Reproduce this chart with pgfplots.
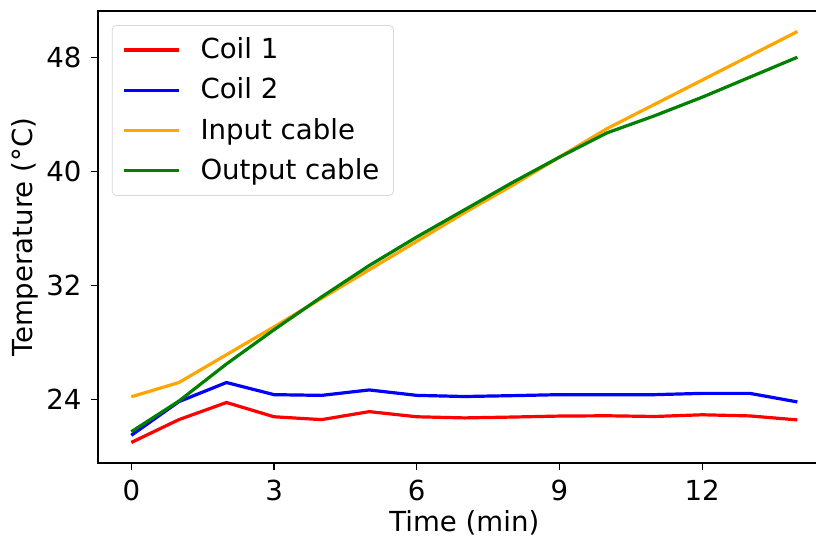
\documentclass[border=0pt]{standalone}
\usepackage{fontspec}
\setmainfont{DejaVu Sans}
\usepackage{pgfplots}
\pgfplotsset{compat=1.18}
\definecolor{mplorange}{RGB}{255,165,0}
\definecolor{mplgreen}{RGB}{0,128,0}
\pgfplotstableread{
t c1 c2 inp outp
0 21.0 21.5 24.2 21.75
1 22.6 23.86 25.2 23.9
2 23.8 25.2 27.15 26.5
3 22.8 24.35 29.1 28.9
4 22.6 24.3 31.1 31.2
5 23.16 24.68 33.1 33.4
6 22.8 24.3 35.1 35.4
7 22.72 24.22 37.1 37.3
8 22.78 24.28 39.0 39.2
9 22.85 24.35 41.0 41.0
10 22.87 24.35 43.0 42.7
11 22.82 24.35 44.7 43.9
12 22.94 24.44 46.4 45.2
13 22.86 24.44 48.1 46.6
14 22.58 23.84 49.8 48.0
}\datatable
\begin{document}
\fontsize{13.8pt}{16pt}\selectfont
\begin{tikzpicture}
\begin{axis}[name=ax, scale only axis, width=366.35pt, height=226pt,
  xmin=-0.7, xmax=14.7, ymin=19.56, ymax=51.24,
  xtick={0,3,6,9,12}, ytick={24,32,40,48},
  tick align=outside, tick pos=left, major tick length=3.5pt,
  axis line style={line width=0.7pt}, tick style={line width=0.7pt, black},
  /pgf/number format/assume math mode=true,
  ticklabel style={font=\fontsize{13.8pt}{16pt}\selectfont},
  label style={font=\fontsize{13.8pt}{16pt}\selectfont},
  xlabel={Time (min)}, ylabel={Temperature (°C)},
  xlabel style={at={(axis description cs:0.5,0)}, anchor=center, yshift=-30pt},
  ylabel style={at={(axis description cs:0,0.5)}, anchor=center, yshift=36.5pt},
  legend style={at={(0.019,0.969)}, anchor=north west, draw=black!15, rounded corners=2pt,
    fill=white, fill opacity=0.8, text opacity=1, font=\fontsize{13.8pt}{16pt}\selectfont,
    row sep=3.6pt, column sep=8pt, inner xsep=5pt, inner ysep=4pt},
  legend cell align=left,
  legend image code/.code={\draw[#1] (0pt,0pt) -- (27.5pt,0pt);},
  every axis plot/.append style={line width=1.6pt},
]
\addplot[red] table[x=t,y=c1]{\datatable};
\addlegendentry{Coil 1}
\addplot[blue] table[x=t,y=c2]{\datatable};
\addlegendentry{Coil 2}
\addplot[mplorange] table[x=t,y=inp]{\datatable};
\addlegendentry{Input cable}
\addplot[mplgreen] table[x=t,y=outp]{\datatable};
\addlegendentry{Output cable}
\end{axis}
\pgfresetboundingbox
\useasboundingbox ([xshift=-49pt,yshift=-36.5pt]ax.south west) rectangle ([xshift=359pt,yshift=5.5pt]ax.north west);
\end{tikzpicture}
\end{document}
